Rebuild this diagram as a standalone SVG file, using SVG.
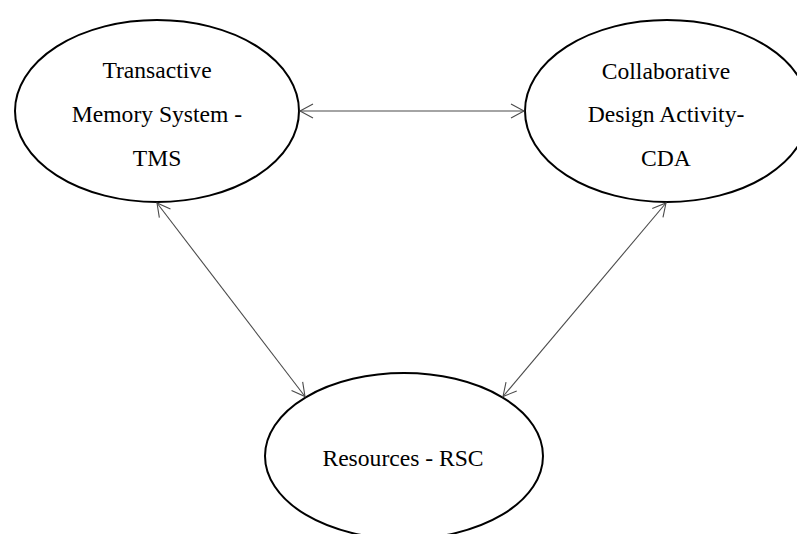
<svg xmlns="http://www.w3.org/2000/svg" width="797" height="534" viewBox="0 0 797 534">
<style>
.node ellipse{fill:#ffffff;stroke:#000000;stroke-width:2}
.node text{font-family:"Liberation Serif","Times New Roman",serif;font-size:23.6px;fill:#000000;text-anchor:middle}
.conn line{stroke:#4a4a4a;stroke-width:1.1;fill:none}
</style>
<defs>
<marker id="arr" viewBox="-15 -9 17 18" refX="0" refY="0" markerWidth="17" markerHeight="18" markerUnits="userSpaceOnUse" orient="auto-start-reverse">
<path d="M-13,-7 L0,0 L-13,7" fill="none" stroke="#4a4a4a" stroke-width="1.1"/>
</marker>
</defs>
<rect x="0" y="0" width="797" height="534" fill="#ffffff"/>
<g id="node-tms" class="node">
<ellipse cx="157" cy="111" rx="142" ry="91"/>
<text x="157" y="78">Transactive</text>
<text x="157" y="122">Memory System -</text>
<text x="157" y="166">TMS</text>
</g>
<g id="node-cda" class="node">
<ellipse cx="667" cy="111" rx="142" ry="91"/>
<text x="666" y="79">Collaborative</text>
<text x="666" y="122">Design Activity-</text>
<text x="666" y="166">CDA</text>
</g>
<g id="node-rsc" class="node">
<ellipse cx="404" cy="456" rx="139" ry="83"/>
<text x="403" y="466">Resources - RSC</text>
</g>
<g id="connectors" class="conn">
<line x1="300" y1="111" x2="524" y2="111" marker-start="url(#arr)" marker-end="url(#arr)"/>
<line x1="157" y1="203" x2="305" y2="396.5" marker-start="url(#arr)" marker-end="url(#arr)"/>
<line x1="666" y1="203" x2="503" y2="396.5" marker-start="url(#arr)" marker-end="url(#arr)"/>
</g>
</svg>
